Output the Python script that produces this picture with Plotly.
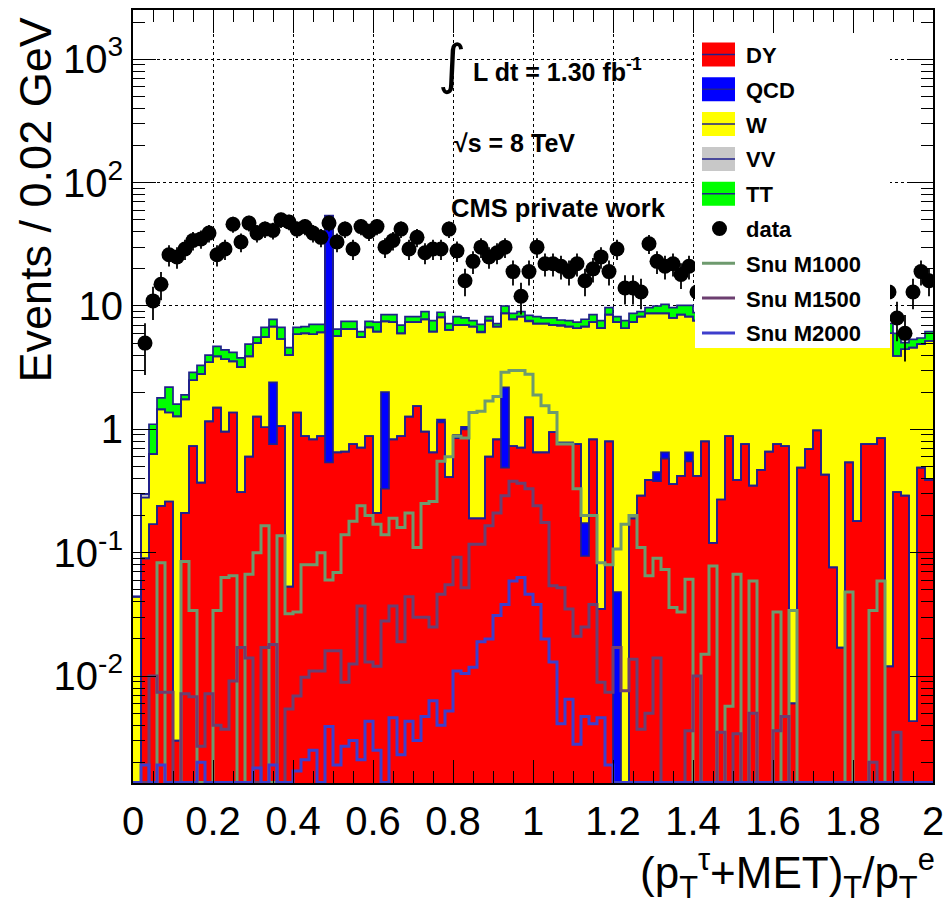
import math
import plotly.graph_objects as go

# ---------------- data (100 bins of width 0.02 from 0 to 2) ----------------
BIN_LO = 0.0
BIN_W = 0.02
N_BINS = 100

DY = [0, 0.09, 0.17, 0.24, 0.26, 0.003, 0.21, 0.73, 0.37, 1.16,
      1.5, 0.96, 1.37, 0.31, 0.6, 1.27, 1.04, 0.76, 1.06, 0.053,
      1.37, 0.88, 0.83, 0.88, 0.54, 0.65, 0.66, 0.76, 0.71, 0.88,
      0.21, 0.33, 0.83, 0.88, 1.27, 1.54, 0.96, 0.65, 1.14, 0.41,
      0.85, 1.0, 0.19, 0.19, 0.6, 0.83, 0.49, 0.73, 0.71, 1.25,
      0.65, 0.65, 0.95, 0.78, 0.78, 0.76, 0.094, 0.83, 0.035, 0.8,
      0, 0, 0.19, 0.29, 0.39, 0.38, 0.58, 0.36, 0.42, 0.55,
      0.42, 0.8, 0.12, 0.27, 0.88, 0.39, 0.76, 0.35, 0.47, 0.66,
      0.76, 0.73, 0.006, 0.49, 0.69, 0.98, 0.43, 0.076, 0.017, 0.54,
      0.18, 0.76, 0.76, 0.85, 0.012, 0.31, 0.29, 0.0043, 0.49, 0.39]

QCD = [0, 0, 0, 0, 0, 0, 0, 0, 0, 0,
       0, 0, 0, 0, 0, 0, 0, 1.64, 0, 0,
       0, 0, 0, 0, 48, 0, 0, 0, 0, 0,
       0, 1.67, 0, 0, 0, 0, 0, 0, 0.06, 0,
       0.05, 0.05, 0, 0, 0, 0, 1.7, 0, 0, 0,
       0, 0, 0, 0, 0, 0, 0.08, 0, 0, 0,
       0.048, 0, 0, 0, 0, 0.07, 0.07, 0, 0, 0.1,
       0, 0, 0, 0, 0, 0, 0, 0, 0, 0,
       0, 0, 0, 0, 0, 0, 0, 0, 0, 0,
       0, 0, 0, 0, 0, 0, 0, 0, 0, 0]

W = [0.044, 0.19, 0.46, 1.21, 1.11, 1.27, 1.54, 1.77, 2.43, 2.34,
     2.4, 2.74, 2.18, 2.89, 3.3, 3.73, 4.56, 4.4, 4.34, 3.95,
     4.53, 5.12, 5.07, 5.22, 5.0, 5.05, 5.84, 5.74, 4.89, 5.82,
     5.99, 5.5, 6.57, 5.12, 6.13, 5.86, 6.84, 5.55, 6.9, 5.99,
     6.1, 5.95, 6.61, 5.91, 7.0, 5.97, 6.51, 7.07, 7.49, 6.25,
     6.55, 6.55, 6.05, 6.12, 6.02, 5.84, 6.63, 6.57, 6.57, 7.7,
     7.35, 6.6, 7.21, 7.91, 8.31, 8.25, 8.05, 7.64, 8.08, 7.55,
     7.2, 6.9, 7.6, 7.3, 6.8, 7.4, 6.9, 7.5, 7.1, 7.0,
     6.8, 7.0, 7.6, 7.1, 6.9, 6.6, 7.2, 7.3, 7.4, 6.8,
     7.2, 6.7, 6.6, 6.5, 6.0, 3.62, 4.17, 4.6, 4.41, 4.81]

VV = [0, 0.02, 0, 0, 0, 0, 0, 0, 0, 0,
      0, 0, 0, 0, 0, 0, 0, 0, 0, 0,
      0, 0, 0, 0, 0, 0, 0, 0, 0, 0,
      0, 0, 0, 0, 0, 0, 0, 0, 0, 0,
      0, 0, 0, 0.1, 0, 0, 0, 0, 0, 0.1,
      0, 0, 0, 0.1, 0, 0, 0, 0, 0, 0,
      0, 0, 0, 0, 0, 0, 0, 0, 0, 0,
      0, 0, 0, 0, 0, 0, 0, 0, 0, 0,
      0, 0, 0, 0, 0, 0, 0, 0, 0, 0,
      0, 0, 0, 0, 0, 0, 0, 0, 0, 0]

TT = [0, 0, 0.47, 0.35, 0.83, 0.33, 0.15, 0.4, 0.5, 0.5,
      0.8, 0.7, 0.65, 0.6, 1.0, 0.6, 1.1, 1.0, 1.3, 0.6,
      0.8, 0.8, 1.2, 1.0, 0.5, 0.8, 1.0, 1.0, 0.6, 0.8,
      1.2, 1.0, 1.1, 1.0, 0.8, 0.8, 1.2, 1.4, 0.8, 0.8,
      1.2, 1.0, 0.8, 0.9, 0.6, 0.4, 1.3, 0.9, 0.8, 0.8,
      1.0, 0.8, 1.0, 0.7, 0.8, 0.8, 1.0, 1.1, 1.0, 1.2,
      0.8, 1.0, 1.3, 0.8, 1.0, 1.3, 1.6, 1.7, 1.6, 1.9,
      1.2, 1.3, 1.1, 1.4, 1.2, 1.0, 1.3, 1.2, 1.1, 1.4,
      1.2, 1.3, 1.0, 1.2, 1.4, 1.1, 1.2, 1.3, 1.0, 1.2,
      1.3, 1.1, 1.2, 1.4, 1.2, 2.07, 0.58, 0.75, 0.6, 1.0]

DATA = [0, 5, 11, 15, 26, 25, 29, 34, 35, 39,
        26, 29, 46, 33, 47, 39, 42, 41, 50, 48,
        42, 44, 39, 36, 47, 33, 42, 29, 44, 40,
        44, 30, 34, 42, 29, 36, 27, 29, 29, 42,
        28, 16, 23, 30, 25, 27, 30, 19, 12, 19,
        30, 22, 22, 21, 19, 22, 16, 20, 25, 19,
        29, 14, 14, 13, 32, 23, 21, 22, 18, 21,
        13, 18, 22, 17, 20, 24, 19, 16, 21, 23,
        18, 20, 15, 19, 22, 17, 21, 18, 16, 20,
        19, 14, 17, 15, 13, 8, 6, 13, 19, 16]

SNU_M1000 = [0, 0, 0, 0.083, 0, 0, 0.085, 0.034, 0, 0,
             0.034, 0.063, 0.065, 0, 0.067, 0.1, 0.165, 0, 0.137, 0.032,
             0.033, 0.08, 0.08, 0.1, 0.06, 0.069, 0.14, 0.18, 0.24, 0.2,
             0.17, 0.14, 0.19, 0.16, 0.21, 0.11, 0.25, 0.26, 0.55, 0.6,
             0.88, 0.85, 1.37, 1.4, 1.7, 1.85, 2.9, 3.0, 3.0, 2.8,
             1.9, 1.55, 1.37, 0.76, 0.76, 0.33, 0.2, 0.2, 0.083, 0.08,
             0.107, 0.17, 0.2, 0.11, 0.065, 0.09, 0.073, 0.036, 0.033, 0.061,
             0, 0.015, 0.078, 0, 0.0057, 0.067, 0, 0.059, 0, 0,
             0.033, 0, 0.034, 0, 0, 0, 0, 0, 0, 0.048,
             0, 0, 0.034, 0.059, 0, 0, 0, 0, 0, 0]

SNU_M1500 = [0, 0, 0.01, 0.0074, 0.0074, 0, 0.0072, 0.0068, 0.0027, 0.0072,
             0.004, 0.0037, 0.0091, 0.017, 0.014, 0, 0.017, 0.018, 0, 0.0054,
             0.0069, 0.0098, 0.011, 0.011, 0.016, 0.016, 0.0089, 0.0125, 0.037, 0.013,
             0.012, 0.028, 0.037, 0.019, 0.044, 0.03, 0.03, 0.025, 0.046, 0.055,
             0.092, 0.052, 0.117, 0.117, 0.165, 0.21, 0.29, 0.38, 0.365, 0.33,
             0.24, 0.176, 0.054, 0.052, 0.035, 0.021, 0.025, 0.038, 0.0089, 0.0074,
             0.017, 0.0076, 0.0137, 0.0037, 0.005, 0.014, 0, 0, 0, 0.0036,
             0.01, 0, 0, 0.0035, 0, 0.0034, 0, 0.005, 0, 0,
             0.0036, 0.0047, 0, 0, 0, 0, 0, 0, 0, 0,
             0, 0, 0.002, 0, 0, 0.0035, 0, 0, 0, 0]

SNU_M2000 = [0, 0.0019, 0, 0.0019, 0, 0, 0, 0, 0.002, 0,
             0, 0, 0, 0, 0, 0.0018, 0, 0.0019, 0, 0,
             0.0017, 0.0021, 0.0025, 0, 0.0039, 0.0019, 0.0027, 0.003, 0.0021, 0.0043,
             0.0025, 0, 0.0046, 0.0023, 0.0043, 0.003, 0.0047, 0.0063, 0.004, 0.0052,
             0.011, 0.0105, 0.0118, 0.019, 0.02, 0.031, 0.038, 0.059, 0.063, 0.046,
             0.038, 0.02, 0.013, 0.0041, 0.0065, 0.0028, 0.0047, 0.0041, 0.0046, 0.0019,
             0, 0, 0, 0, 0, 0, 0, 0, 0, 0,
             0, 0, 0, 0, 0, 0, 0, 0, 0, 0,
             0, 0, 0, 0, 0, 0, 0, 0, 0, 0,
             0, 0, 0, 0, 0, 0, 0, 0, 0, 0]

X_TICKS = [0, 0.2, 0.4, 0.6, 0.8, 1.0, 1.2, 1.4, 1.6, 1.8, 2.0]
X_TICK_LABELS = ["0", "0.2", "0.4", "0.6", "0.8", "1", "1.2", "1.4", "1.6", "1.8", "2"]
LEGEND_NAMES = ["DY", "QCD", "W", "VV", "TT", "data", "Snu M1000", "Snu M1500", "Snu M2000"]

# ---------------- styles ----------------
COL_DY, COL_QCD, COL_W, COL_VV, COL_TT = "#ff0000", "#0000ff", "#ffff00", "#c8c8c8", "#00ff00"
COL_OUT = "#20208c"
COL_M1000, COL_M1500, COL_M2000 = "#6e9a6e", "#6c3f70", "#3e3ecc"
FONT = "Liberation Sans, Arial, Helvetica, sans-serif"

Y_LO, Y_HI = -2.867, 3.3995
FLOOR = 10 ** (Y_LO + 0.004)

centers = [BIN_LO + BIN_W * (i + 0.5) for i in range(N_BINS)]
edges = [BIN_LO + BIN_W * i for i in range(N_BINS + 1)]

c1 = list(DY)
c2 = [a + b for a, b in zip(c1, QCD)]
c3 = [a + b for a, b in zip(c2, W)]
c4 = [a + b for a, b in zip(c3, VV)]
c5 = [a + b for a, b in zip(c4, TT)]

fig = go.Figure()

for vals, col in [(c5, COL_TT), (c4, COL_VV), (c3, COL_W), (c2, COL_QCD), (c1, COL_DY)]:
    fig.add_trace(go.Bar(x=centers, y=[v if v > 0 else None for v in vals], width=BIN_W * 1.01,
                         marker=dict(color=col, line=dict(width=0)), showlegend=False,
                         hoverinfo="skip"))


def step(vals):
    ys = [v if v > 0 else FLOOR for v in vals]
    return edges, ys + [ys[-1]]


for vals in [c5, c4, c3, c2, c1]:
    xs, ys = step(vals)
    fig.add_trace(go.Scatter(x=xs, y=ys, mode="lines", line=dict(color=COL_OUT, width=1.7, shape="hv"),
                             showlegend=False, hoverinfo="skip"))

for vals, col in [(SNU_M1000, COL_M1000), (SNU_M1500, COL_M1500), (SNU_M2000, COL_M2000)]:
    xs, ys = step(vals)
    fig.add_trace(go.Scatter(x=xs, y=ys, mode="lines", line=dict(color=col, width=3, shape="hv"),
                             showlegend=False, hoverinfo="skip"))

dx = [c for c, d in zip(centers, DATA) if d > 0]
dy = [d for d in DATA if d > 0]
de = [math.sqrt(d) for d in dy]
fig.add_trace(go.Scatter(x=dx, y=dy, mode="markers",
                         marker=dict(color="black", size=15, symbol="circle"),
                         error_y=dict(type="data", array=de, color="black", thickness=1.8, width=0),
                         showlegend=False, hoverinfo="skip"))

# ---------------- layout ----------------
L, R, T, B = 133, 10, 10, 123
PW, PH = 943 - L - R, 906 - T - B


def px(x):
    return (x - L) / PW


def py(y):
    return (906 - B - y) / PH


minor_y = [m * 10 ** e for e in range(-3, 4) for m in range(2, 10) if Y_LO < math.log10(m * 10 ** e) < Y_HI]

fig.update_layout(
    width=943, height=906, autosize=False, margin=dict(l=L, r=R, t=T, b=B, autoexpand=False),
    paper_bgcolor="white", plot_bgcolor="white", barmode="overlay", bargap=0,
    showlegend=False,
    font=dict(family=FONT, color="black"),
    xaxis=dict(range=[0, 2], tickmode="array", tickvals=X_TICKS, ticktext=X_TICK_LABELS,
               ticks="inside", ticklen=23,
               tickwidth=1, tickcolor="black", showline=True, linecolor="black", linewidth=2,
               mirror="allticks", showgrid=True, gridcolor="black", griddash="dot", gridwidth=1,
               zeroline=False, automargin=False, ticklabeloverflow="allow",
               tickfont=dict(size=40, family=FONT), ticklabelstandoff=2,
               minor=dict(ticks="inside", ticklen=12, dtick=0.05, tick0=0, tickcolor="black", showgrid=False)),
    yaxis=dict(type="log", range=[Y_LO, Y_HI], tickmode="array",
               tickvals=[0.01, 0.1, 1, 10, 100, 1000],
               ticktext=["10<sup>-2</sup>", "10<sup>-1</sup>", "1", "10", "10<sup>2</sup>", "10<sup>3</sup>"],
               ticks="inside", ticklen=23, tickwidth=1, tickcolor="black", showline=True, linecolor="black",
               linewidth=2, mirror="allticks", showgrid=True, gridcolor="black", griddash="dot", gridwidth=1,
               zeroline=False, automargin=False, ticklabeloverflow="allow",
               tickfont=dict(size=40, family=FONT), ticklabelstandoff=0,
               minor=dict(ticks="inside", ticklen=12, tickmode="array", tickvals=minor_y,
                          tickcolor="black", showgrid=False)),
)

shapes = []
annotations = []

# legend box
shapes.append(dict(type="rect", xref="paper", yref="paper", x0=px(695), x1=px(890), y0=py(348), y1=py(33),
                   fillcolor="white", line=dict(width=0), layer="above"))
fill_cols = [COL_DY, COL_QCD, COL_W, COL_VV, COL_TT]
line_cols = [COL_M1000, COL_M1500, COL_M2000]
for k, name in enumerate(LEGEND_NAMES):
    cy = 54.5 + 34.8 * k
    if k < 5:
        shapes.append(dict(type="rect", xref="paper", yref="paper", x0=px(702), x1=px(735),
                           y0=py(cy + 12), y1=py(cy - 12), fillcolor=fill_cols[k], line=dict(width=0),
                           layer="above"))
        shapes.append(dict(type="line", xref="paper", yref="paper", x0=px(702), x1=px(735),
                           y0=py(cy), y1=py(cy), line=dict(color=COL_OUT, width=1.5), layer="above"))
    elif k == 5:
        shapes.append(dict(type="circle", xref="paper", yref="paper", x0=px(712), x1=px(727),
                           y0=py(cy + 7.5), y1=py(cy - 7.5), fillcolor="black", line=dict(width=0),
                           layer="above"))
    else:
        shapes.append(dict(type="line", xref="paper", yref="paper", x0=px(702), x1=px(735),
                           y0=py(cy), y1=py(cy), line=dict(color=line_cols[k - 6], width=3), layer="above"))
    annotations.append(dict(xref="paper", yref="paper", x=px(744), y=py(cy + 1), xanchor="left",
                            yanchor="middle", showarrow=False, text="<b>%s</b>" % name,
                            font=dict(size=22, family=FONT, color="black")))

# labels inside the frame
annotations.append(dict(xref="paper", yref="paper", x=px(452), y=py(64), xanchor="center", yanchor="middle",
                        showarrow=False, text="∫", font=dict(size=54, family="DejaVu Sans", color="black")))
annotations.append(dict(xref="paper", yref="paper", x=px(471), y=py(70), xanchor="left", yanchor="middle",
                        showarrow=False, text="<b>L dt = 1.30 fb<sup>-1</sup></b>",
                        font=dict(size=25, family=FONT, color="black")))
annotations.append(dict(xref="paper", yref="paper", x=px(452), y=py(143), xanchor="left", yanchor="middle",
                        showarrow=False, text="<b>√s = 8 TeV</b>", font=dict(size=25, family=FONT, color="black")))
annotations.append(dict(xref="paper", yref="paper", x=px(449), y=py(208), xanchor="left", yanchor="middle",
                        showarrow=False, text="<b>CMS private work</b>",
                        font=dict(size=25.5, family=FONT, color="black")))

# axis titles
annotations.append(dict(xref="paper", yref="paper", x=px(35), y=py(16), xanchor="center", yanchor="top",
                        textangle=-90, showarrow=False, text="Events / 0.02 GeV",
                        font=dict(size=45, family=FONT, color="black")))
annotations.append(dict(xref="paper", yref="paper", x=px(937), y=py(873), xanchor="right", yanchor="middle",
                        showarrow=False,
                        text="(p<sub>T</sub><sup>τ</sup>+MET)<sub>T</sub>/p<sub>T</sub><sup>e</sup>",
                        font=dict(size=44, family=FONT, color="black")))

fig.update_layout(shapes=shapes, annotations=annotations)
fig.write_html("out.html",
               config={"displayModeBar": False, "responsive": False, "staticPlot": True},
               post_script=("document.documentElement.style.overflow='hidden';"
                            "document.body.style.overflow='hidden';"
                            "document.body.style.margin='0';document.body.style.padding='0';"))
